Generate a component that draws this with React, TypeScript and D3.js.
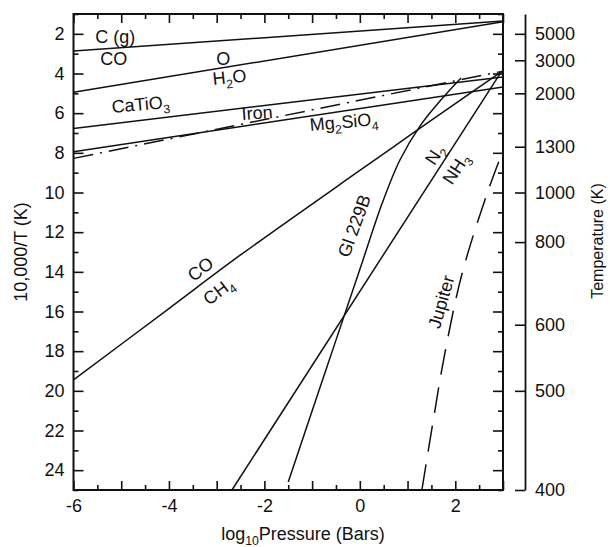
import * as d3 from "d3";
import { useEffect, useRef } from "react";

type Pt = [number, number];

// x: log10 P (bars), y: 10,000/T
const xLabelTicks = [-6, -4, -2, 0, 2];
const yLabelTicks = [2, 4, 6, 8, 10, 12, 14, 16, 18, 20, 22, 24];
const tempTicks = [5000, 3000, 2000, 1300, 1000, 800, 600, 500, 400];

const cgCo: Pt[] = [[-6, 2.87], [3, 1.35]];
const oH2o: Pt[] = [[-6, 4.95], [3, 1.39]];
const caTiO3: Pt[] = [[-6, 6.77], [3, 4.18]];
const mg2SiO4: Pt[] = [[-6, 7.94], [3, 4.68]];
const iron: Pt[] = [[-6, 8.28], [3, 3.88]];
const coCh4: Pt[] = [[-6, 19.45], [-4, 15.85], [-2.5, 13.15], [0, 8.89], [1, 7.2], [2, 5.52], [2.97, 3.91]];
const n2Nh3: Pt[] = [[-2.68, 25], [2.97, 3.89]];
const gl229b: Pt[] = [[-1.5, 24.6], [-0.69, 18.8], [0.01, 13.81], [0.47, 10.53], [0.84, 8.36], [1.26, 6.65], [1.68, 5.39], [2.12, 4.23]];
const jupiter: Pt[] = [[1.3, 25], [1.54, 21.47], [1.77, 18.25], [2.14, 14.11], [2.67, 10.03], [2.98, 8.01]];

// annotation text, "_n" = subscript
const labelText = ["C (g)", "CO", "O", "H_2O", "CaTiO_3", "Iron", "Mg_2SiO_4", "CO", "CH_4", "Gl 229B", "N_2", "NH_3", "Jupiter"];
const labelX = [-5.545, -5.44, -3.01, -3.07, -5.19, -2.47, -1.04, -3.26, -2.885, 0.005, 1.68, 2.12, 1.83];
const labelY = [2.46, 3.57, 3.57, 4.58, 5.99, 6.35, 6.9, 14.11, 15.22, 11.79, 8.26, 8.97, 15.6];
const labelRot = [0, 0, 0, -6, -5, -4, -5, -37, -37, -70, -57, -57, -74];

export default function App() {
  const ref = useRef<SVGSVGElement>(null);

  useEffect(() => {
    const width = 610;
    const height = 547;
    const left = 73.5, right = 503, top = 14, bottom = 490;
    const axis2X = 525;
    const font = "'Liberation Sans', Arial, sans-serif";

    const svg = d3.select(ref.current);
    svg.selectAll("*").remove();
    svg.attr("width", width).attr("height", height);

    const x = d3.scaleLinear().domain([-6, 3]).range([left, right]);
    const y = d3.scaleLinear().domain([1, 25]).range([top, bottom]);

    const halfTicks = d3.range(-6, 3.01, 0.5);
    const intTicks = d3.range(1, 25.01, 1);

    // frame ticks
    const styleAxis = (g: any, size = 18) => {
      g.select(".domain").remove();
      g.selectAll("line").attr("stroke", "#111").attr("stroke-width", 1.6);
      g.selectAll("text").attr("font-size", size).attr("font-family", font).attr("fill", "#111");
    };
    const tickLen = (d: number, even: boolean) => (even ? -10 : -5);

    const bottomAx = svg.append("g").attr("transform", `translate(0,${bottom})`)
      .call(d3.axisBottom(x).tickValues(halfTicks).tickSize(-9).tickPadding(9)
        .tickFormat((d: any) => (xLabelTicks.includes(d) ? String(d) : "")));
    styleAxis(bottomAx);
    bottomAx.selectAll("line").attr("y2", (d: any) => (Number.isInteger(d) ? -9 : -5));

    const topAx = svg.append("g").attr("transform", `translate(0,${top})`)
      .call(d3.axisTop(x).tickValues(halfTicks).tickSize(-9).tickFormat(() => ""));
    styleAxis(topAx);
    topAx.selectAll("line").attr("y2", (d: any) => (Number.isInteger(d) ? 9 : 5));

    const leftAx = svg.append("g").attr("transform", `translate(${left},0)`)
      .call(d3.axisLeft(y).tickValues(intTicks).tickSize(-10).tickPadding(9)
        .tickFormat((d: any) => (yLabelTicks.includes(d) ? String(d) : "")));
    styleAxis(leftAx);
    leftAx.selectAll("line").attr("x2", (d: any) => -tickLen(d, d % 2 === 0));

    const rightAx = svg.append("g").attr("transform", `translate(${right},0)`)
      .call(d3.axisRight(y).tickValues(intTicks).tickSize(-10).tickFormat(() => ""));
    styleAxis(rightAx);
    rightAx.selectAll("line").attr("x2", (d: any) => tickLen(d, d % 2 === 0));

    svg.append("rect")
      .attr("x", left).attr("y", top)
      .attr("width", right - left).attr("height", bottom - top)
      .attr("fill", "none").attr("stroke", "#111").attr("stroke-width", 2);

    // second axis: temperature
    const tempAx = svg.append("g").attr("transform", `translate(${axis2X},0)`)
      .call(d3.axisRight(y).tickValues(tempTicks.map((t) => 10000 / t)).tickSizeInner(-10).tickSizeOuter(0).tickPadding(10)
        .tickFormat((d: any) => String(Math.round(10000 / d))));
    tempAx.select(".domain").attr("stroke", "#111").attr("stroke-width", 1.8);
    tempAx.selectAll("line").attr("stroke", "#111").attr("stroke-width", 1.6);
    tempAx.selectAll("text").attr("font-size", 18).attr("font-family", font).attr("fill", "#111");

    // curves
    const line = d3.line<Pt>().x((d) => x(d[0])).y((d) => y(d[1])).curve(d3.curveCatmullRom);
    const plot = svg.append("g").attr("fill", "none").attr("stroke", "#111").attr("stroke-width", 1.5);
    [cgCo, oH2o, caTiO3, mg2SiO4, coCh4, n2Nh3, gl229b].forEach((s) => {
      plot.append("path").datum(s).attr("d", line);
    });
    plot.append("path").datum(iron).attr("d", line).attr("stroke-dasharray", "20,7,2,7");
    plot.append("path").datum(jupiter).attr("d", line).attr("stroke-dasharray", "26,13");

    // labels
    const addLabel = (g: any, text: string, px: number, py: number, rot: number, anchor: string, size: number) => {
      const t = g.append("text")
        .attr("transform", `translate(${px},${py}) rotate(${rot})`)
        .attr("text-anchor", anchor)
        .attr("font-size", size).attr("font-family", font).attr("fill", "#111");
      const parts = text.split(/_(\d+)/);
      let off = 0;
      parts.forEach((p, i) => {
        if (!p) return;
        if (i % 2 === 1) {
          t.append("tspan").attr("font-size", size * 0.68).attr("dy", 5 - off).text(p);
          off = 5;
        } else {
          t.append("tspan").attr("dy", -off).text(p);
          off = 0;
        }
      });
      return t;
    };

    labelText.forEach((txt, i) => {
      const anchor = labelRot[i] <= -30 ? "middle" : "start";
      addLabel(svg, txt, x(labelX[i]), y(labelY[i]), labelRot[i], anchor, 18);
    });

    // axis titles
    addLabel(svg, "log_10Pressure (Bars)", 303, 540, 0, "middle", 18);
    addLabel(svg, "10,000/T (K)", 27, (top + bottom) / 2, -90, "middle", 18);
    addLabel(svg, "Temperature (K)", 603, 241, -90, "middle", 16);
  }, []);

  return (
    <svg
      ref={ref}
      width={610}
      height={547}
      style={{ position: "absolute", left: 0, top: 0, background: "#fff" }}
    />
  );
}
